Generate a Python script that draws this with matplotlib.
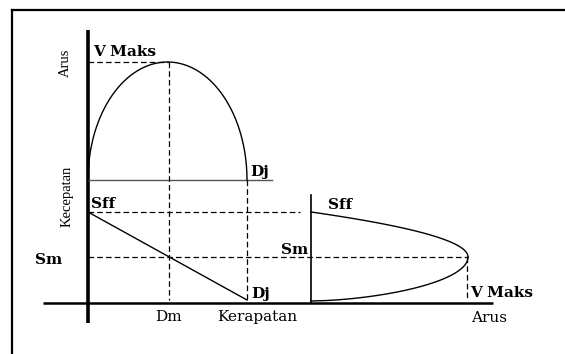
import numpy as np
import matplotlib.pyplot as plt

# diagram fundamental lalu lintas (arus - kecepatan - kerapatan)
# semua posisi dalam piksel gambar (0,0 = kiri atas)

# titik-titik kunci
x_axis = 88          # sumbu kecepatan / arus kiri
x_dm = 169           # kerapatan maksimum (Dm)
x_dj = 247           # kerapatan macet (Dj)
y_base_top = 180     # dasar grafik arus-kerapatan
y_vmax_top = 62      # arus maksimum (V Maks)
y_sff = 212          # kecepatan arus bebas (Sff)
y_sm = 257           # kecepatan pada arus maksimum (Sm)
y_axis = 303         # sumbu kerapatan / arus bawah
x_axis2 = 311        # sumbu kecepatan kanan
x_vmax = 468         # arus maksimum pada grafik kanan
y_bottom2 = 301      # ujung bawah kurva kanan

labels_top = ['V Maks', 'Dj']
labels_left = ['Sff', 'Sm', 'Dj']
labels_bottom = ['Dm', 'Kerapatan', 'Arus']
labels_right = ['Sff', 'Sm', 'V Maks']
axis_titles = ['Arus', 'Kecepatan']

SERIF = ['DejaVu Serif']
TIMES = ['Liberation Serif', 'DejaVu Serif']

fig = plt.figure(figsize=(5.65, 3.54), dpi=100)
ax = fig.add_axes([0, 0, 1, 1])
ax.set_xlim(0, 565)
ax.set_ylim(354, 0)
ax.set_axis_off()

# bingkai (hanya atas dan kiri yang terlihat)
ax.plot([12, 565], [10, 10], color='black', lw=1.6)
ax.plot([12, 12], [10, 354], color='black', lw=1.6)

# sumbu
ax.plot([x_axis, x_axis], [30, 323], color='black', lw=2.6, solid_capstyle='butt')
ax.plot([43, 493], [y_axis, y_axis], color='black', lw=1.8, solid_capstyle='butt')
ax.plot([x_axis, 272], [y_base_top, y_base_top], color='#555555', lw=1.0)
ax.plot([x_axis2, x_axis2], [195, y_axis], color='black', lw=1.2)

# kurva arus - kerapatan (setengah elips)
t = np.linspace(0, np.pi, 200)
cx = (x_axis + x_dj) / 2
ax.plot(cx - (x_dj - x_axis) / 2 * np.cos(t),
        y_base_top - (y_base_top - y_vmax_top) * np.sin(t),
        color='black', lw=1.0)

# garis kecepatan - kerapatan
ax.plot([x_axis, x_dj], [y_sff, y_axis - 3], color='black', lw=1.0)

# kurva kecepatan - arus (parabola miring)
s = np.linspace(0, 1, 100)
w = x_vmax - x_axis2
ax.plot(x_axis2 + w * (1 - (1 - s) ** 2), y_sff + (y_sm - y_sff) * s,
        color='black', lw=1.0)
ax.plot(x_axis2 + w * (1 - (1 - s) ** 2) ** 0.6, y_bottom2 - (y_bottom2 - y_sm) * s,
        color='black', lw=1.0)

# garis bantu putus-putus
dash = dict(color='black', lw=0.9, ls=(0, (4.5, 2.5)))
ax.plot([x_axis, x_dm], [y_vmax_top, y_vmax_top], **dash)
ax.plot([x_dm, x_dm], [y_vmax_top, y_axis - 3], **dash)
ax.plot([x_dj, x_dj], [y_base_top, y_axis - 3], **dash)
ax.plot([x_axis, 300], [y_sff, y_sff], **dash)
ax.plot([x_axis, x_vmax], [y_sm, y_sm], **dash)
ax.plot([x_vmax - 1, x_vmax - 1], [y_sm, y_axis - 3], **dash)

# teks
tk = dict(family=SERIF, fontsize=11, va='center', color='black')
ax.text(93, 52, labels_top[0], fontweight='bold', **tk)
ax.text(250, 172, labels_top[1], fontweight='bold', **tk)
ax.text(91, 204, labels_left[0], fontweight='bold', **tk)
ax.text(35, 260, labels_left[1], fontweight='bold', **tk)
ax.text(251, 294, labels_left[2], fontweight='bold', **tk)
ax.text(168, 317, labels_bottom[0], ha='center', **tk)
ax.text(257, 317, labels_bottom[1], ha='center', **tk)
ax.text(489, 318, labels_bottom[2], ha='center', **tk)
ax.text(328, 205, labels_right[0], fontweight='bold', **tk)
ax.text(308, 250, labels_right[1], ha='right', fontweight='bold', **tk)
ax.text(470, 293, labels_right[2], fontweight='bold', **tk)

tv = dict(family=TIMES, fontsize=10.5, rotation=90, ha='center', va='center')
ax.text(65, 63, axis_titles[0], **tv)
ax.text(67, 196, axis_titles[1], **tv)

fig.savefig('out.png', dpi=100, facecolor='white')
